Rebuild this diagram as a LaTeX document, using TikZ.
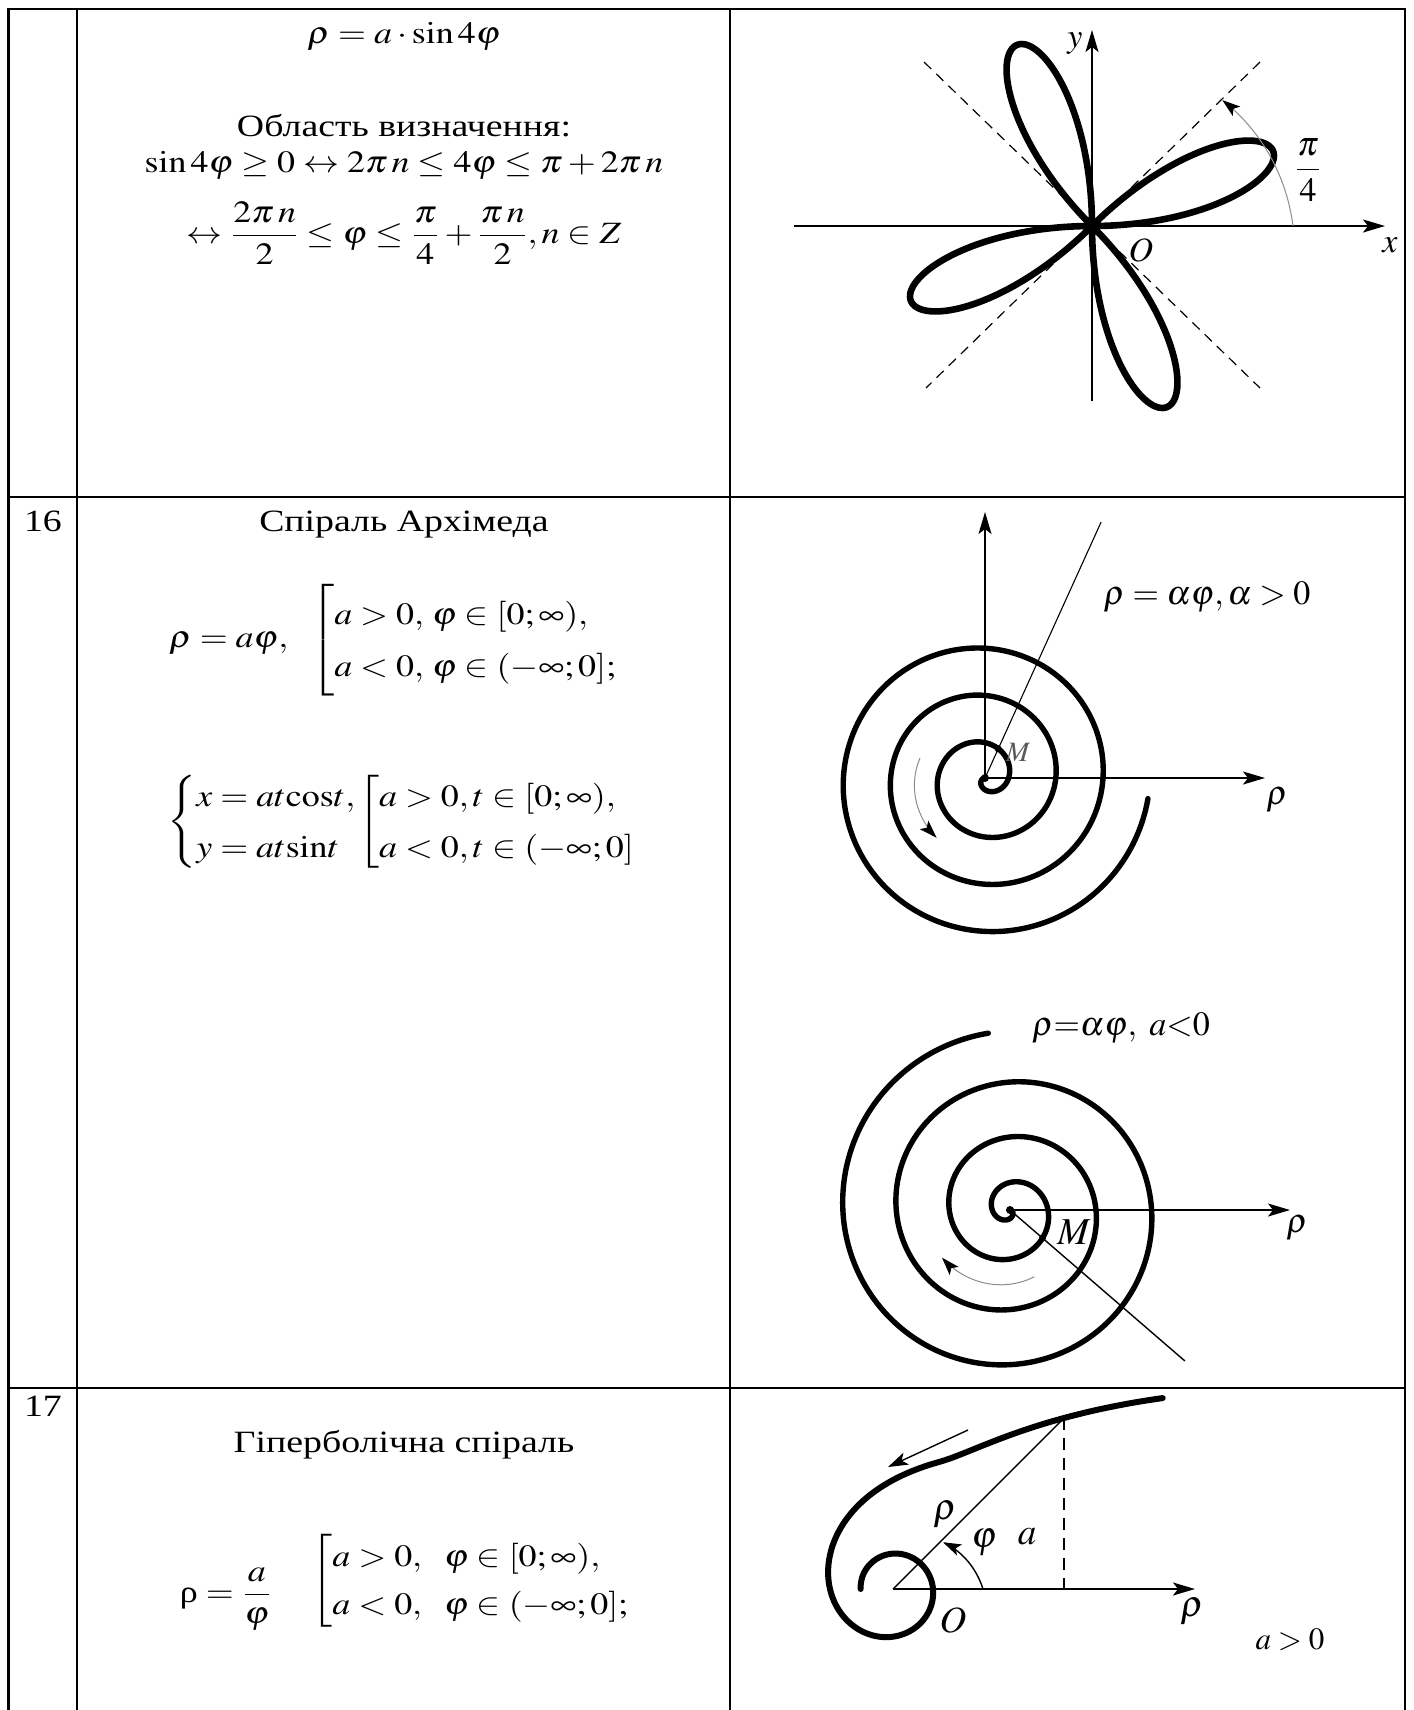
\documentclass[tikz,border=0pt]{standalone}
\usepackage{amsmath}
\usepackage{mathptmx}
\usepackage[no-math]{fontspec}
\setmainfont{Liberation Serif}
\usetikzlibrary{arrows.meta}
\definecolor{arrowgray}{gray}{0.55}
\definecolor{labelgray}{gray}{0.35}
\newcommand{\wtext}[1]{\scalebox{1.22}[1]{#1}}
\newcommand{\wmath}[1]{\scalebox{1.16}[1]{#1}}
\begin{document}
\begin{tikzpicture}[x=0.5pt,y=0.5pt,
  gridline/.style={line width=1.4pt},
  thickcurve/.style={line width=2.7pt, line cap=round, line join=round},
  thinline/.style={line width=0.75pt},
  axisarrow/.style={-{Stealth[length=11pt,width=6.5pt,inset=2.5pt]}},
  smallarrow/.style={-{Stealth[length=9pt,width=6pt,inset=2pt,color=black]}},
  dashline/.style={line width=0.6pt, dash pattern=on 5pt off 3.5pt},
  txt/.style={font=\fontsize{15.5}{18.6}\selectfont, inner sep=0pt},
  lbl/.style={font=\fontsize{17}{20}\selectfont, inner sep=0pt},
  biglbl/.style={font=\fontsize{18.5}{22}\selectfont, inner sep=0pt},
  declare function={sptwo(\k)=8.25*\k+0.3125*\k*\k-0.6*max(0,\k-10)*max(0,\k-10);
    hyp(\t)=144.5/rad(\t)+17+216*max(0,1.2206-rad(\t))*max(0,1.2206-rad(\t));}
]
\useasboundingbox (0,0) rectangle (1414,-1710);
\fill[white] (0,0) rectangle (1414,-1710);

% ---------- table ----------
\draw[gridline] (8.5,-1710) -- (8.5,-9) -- (1405,-9) -- (1405,-1710);
\draw[gridline] (77,-9) -- (77,-1710);
\draw[gridline] (730,-9) -- (730,-1710);
\draw[gridline] (8.5,-497) -- (1405,-497);
\draw[gridline] (8.5,-1388) -- (1405,-1388);

% ---------- row 1 text ----------
\node[txt, anchor=base] (r1a) at (404,-43) {\wmath{$\rho=a\cdot\sin4\varphi$}};
\node[txt, anchor=base] (r1b) at (404,-136) {\wtext{Область визначення:}};
\node[txt, anchor=base] (r1c) at (404,-172) {\wmath{$\sin4\varphi\ge0\leftrightarrow2\pi\,n\le4\varphi\le\pi+2\pi\,n$}};
\node[txt] (r1d) at (404,-233) {\wmath{$\leftrightarrow\dfrac{2\pi\,n}{2}\le\varphi\le\dfrac{\pi}{4}+\dfrac{\pi\,n}{2},n\in Z$}};

% ---------- row 2 text ----------
\node[txt, anchor=base] (r2num) at (43,-531) {\wtext{16}};
\node[txt, anchor=base] (r2title) at (404,-531) {\wtext{Спіраль Архімеда}};
\node[txt] (r2f1) at (394,-640) {\wmath{\renewcommand{\arraystretch}{1.4}$\rho=a\varphi,\ \ \left[\begin{array}{@{}l@{}} a>0,\,\varphi\in[0;\infty),\\ a<0,\,\varphi\in(-\infty;0];\end{array}\right.$}};
\node[txt] (r2f2) at (402,-822) {\wmath{\renewcommand{\arraystretch}{1.35}$\left\{\begin{array}{@{}l@{}} x=at\mathrm{cos}t,\\ y=at\mathrm{sin}t\end{array}\right.\!\left[\begin{array}{@{}l@{}} a>0,t\in[0;\infty),\\ a<0,t\in(-\infty;0]\end{array}\right.$}};

% ---------- row 3 text ----------
\node[txt, anchor=base] (r3num) at (43,-1416) {\wtext{17}};
\node[txt, anchor=base] (r3title) at (404,-1452) {\wtext{Гіперболічна спіраль}};
\node[txt] (r3f1) at (226,-1599) {\wmath{$\mbox{ρ}=\dfrac{a}{\varphi}$}};
\node[txt, anchor=west] (r3f2) at (311,-1581) {\wmath{\renewcommand{\arraystretch}{1.3}$\left[\begin{array}{@{}l@{}} a>0,\ \ \varphi\in[0;\infty),\\ a<0,\ \ \varphi\in(-\infty;0];\end{array}\right.$}};

% ---------- rose ----------
\begin{scope}[shift={(1092,-226)}]
  \coordinate (O1) at (0,0);
  \coordinate (x1s) at (-298,0);
  \coordinate (x1e) at (293,0);
  \coordinate (y1s) at (0,-175);
  \coordinate (y1e) at (0,196);
  \coordinate (d1a) at (-168,164);
  \coordinate (d1b) at (168,-162);
  \coordinate (d2a) at (168,164);
  \coordinate (d2b) at (-166,-162);
  \draw[dashline] (d1a) -- (d1b);
  \draw[dashline] (d2a) -- (d2b);
  \draw[thinline, axisarrow] (x1s) -- (x1e);
  \draw[thinline, axisarrow] (y1s) -- (y1e);
  \foreach \a/\b in {0/45, 90/135, 180/225, 270/315}
    \draw[thickcurve, line width=3.3pt] plot[domain=\a:\b, samples=90, smooth] (\x:{196*sin(4*\x)});
  \draw[arrowgray, line width=0.5pt, smallarrow] plot[domain=0:44, samples=40, smooth] (\x:{201-0.45*\x});
  \node[lbl] (ylab) at (-17,182) {$y$};
  \node[lbl] (xlab) at (298,-19) {$x$};
  \node[lbl] (olab) at (49,-24) {$O$};
  \node[lbl] (pilab) at (216,56) {$\dfrac{\pi}{4}$};
\end{scope}

% ---------- Archimedes spiral a>0 ----------
\begin{scope}[shift={(985,-778)}]
  \coordinate (C1) at (0,0);
  \coordinate (C1up) at (0,266);
  \coordinate (C1rt) at (280,0);
  \coordinate (C1ray) at (65.6:281);
  \coordinate (M1) at (65.6:32);
  \draw[thinline, line width=0.9pt, axisarrow] (C1) -- (C1up);
  \draw[thinline, line width=0.9pt, axisarrow] (C1) -- (C1rt);
  \draw[line width=0.55pt] (C1) -- (C1ray);
  \draw[thickcurve] plot[domain=180:1432.8, samples=500, smooth] (\x:{0.1311*(\x-180)});
  \fill (C1) circle (4);
  \fill (M1) circle (3.5);
  \draw[arrowgray, line width=0.5pt, smallarrow] plot[domain=163:231, samples=30, smooth] (\x:{68+(\x-163)*0.13});
  \node[font=\fontsize{14}{16}\selectfont, inner sep=0pt, text=labelgray] (m1lab) at (33,26) {$M$};
  \node[lbl] (rho1) at (292,-22) {$\rho$};
  \node[lbl] (f1lab) at (222,181) {$\rho=\alpha\varphi,\alpha>0$};
\end{scope}

% ---------- Archimedes spiral a<0 ----------
\begin{scope}[shift={(1010,-1210)}]
  \coordinate (C2) at (0,0);
  \coordinate (C2rt) at (280,0);
  \coordinate (C2ray) at (-40.8:231);
  \coordinate (M2) at (-40.8:42.9);
  \draw[thinline, line width=0.9pt, axisarrow] (C2) -- (C2rt);
  \draw[line width=0.7pt] (C2) -- (C2ray);
  \draw[thickcurve] plot[domain=0:1343, samples=500, smooth] (-\x:{sptwo(\x/90)});
  \fill (C2) circle (4);
  \fill (M2) circle (3.5);
  \draw[arrowgray, line width=0.5pt, smallarrow] plot[domain=0:75, samples=30, smooth] (-70-\x:{71+0.16*\x});
  \node[font=\fontsize{19}{22}\selectfont, inner sep=0pt] (m2lab) at (64,-22) {$M$};
  \node[lbl] (rho2) at (287,-18) {$\rho$};
  \node[lbl] (f2lab) at (111,182) {$\rho{=}\alpha\varphi,\ a{<}0$};
\end{scope}

% ---------- hyperbolic spiral ----------
\begin{scope}[shift={(893,-1589)}]
  \coordinate (O3) at (0,0);
  \coordinate (O3rt) at (302,0);
  \coordinate (P3) at (45:{hyp(45)});
  \coordinate (P3f) at (P3 |- O3);
  \coordinate (A3s) at (75,159);
  \coordinate (A3e) at (-5,122);
  \draw[line width=0.9pt, axisarrow] (O3) -- (O3rt);
  \draw[line width=0.7pt] (O3) -- (P3);
  \draw[line width=0.8pt, dash pattern=on 6pt off 4pt] (P3) -- (P3f);
  \draw[thickcurve, line width=3pt] plot[domain=35.3:540, samples=400, smooth] (\x:{hyp(\x)});
  \draw[line width=0.7pt, -{Stealth[length=10pt,width=6.5pt,inset=2.5pt]}] (A3s) -- (A3e);
  \draw[line width=0.7pt, -{Stealth[length=9pt,width=6pt,inset=2pt]}] plot[domain=0:43, samples=30, smooth] (\x:{90-0.5*\x});
  \node[biglbl] (rho3a) at (52,74) {$\rho$};
  \node[biglbl] (phi3) at (91,46) {$\varphi$};
  \node[biglbl] (a3) at (134,52) {$a$};
  \node[biglbl] (o3lab) at (60,-31) {$O$};
  \node[biglbl] (rho3b) at (299,-23) {$\rho$};
\end{scope}
\node[txt] (apos) at (1290,-1640) {$a>0$};
\end{tikzpicture}
\end{document}
